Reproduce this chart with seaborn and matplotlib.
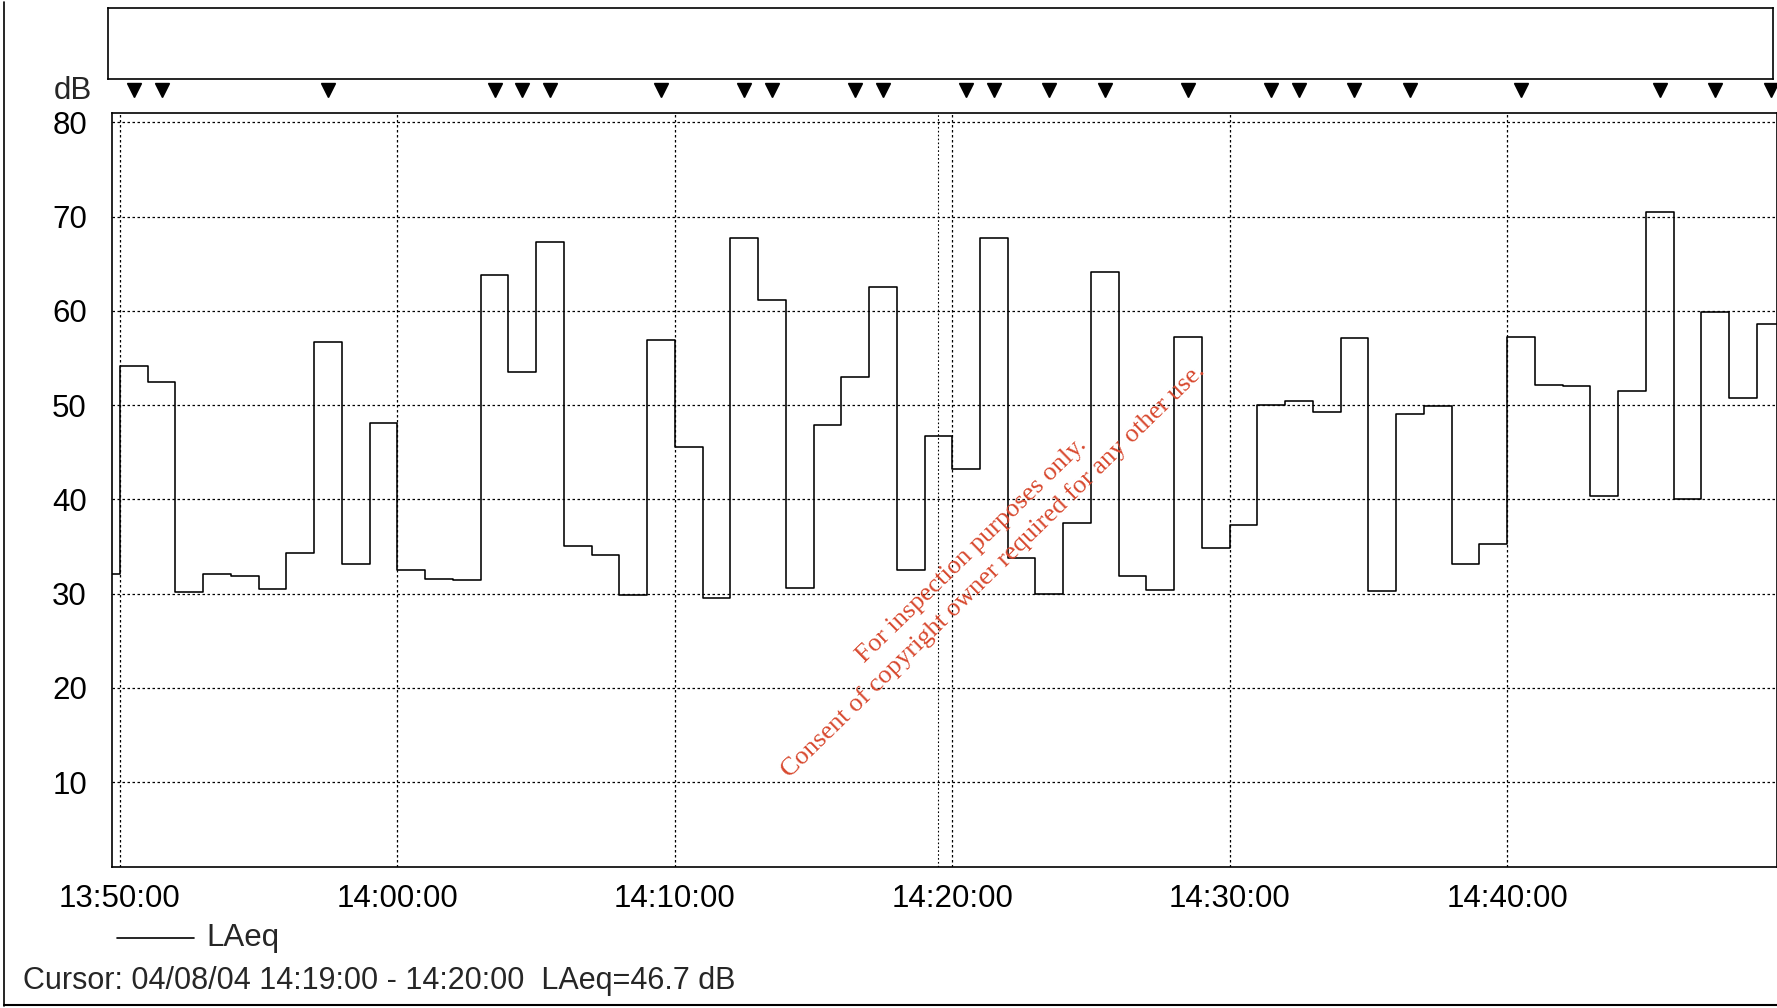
import matplotlib
matplotlib.use('Agg')
import matplotlib.pyplot as plt
import matplotlib.transforms as mtransforms
import seaborn as sns

# minutes after 13:50:00 (start of each 1-minute interval)
minutes = list(range(-1, 60))
laeq = [32.1,
        54.1, 52.5, 30.2, 32.1, 31.9, 30.5, 34.3, 56.7, 33.1, 48.1,
        32.5, 31.5, 31.4, 63.8, 53.5, 67.3, 35.0, 34.1, 29.8, 56.9,
        45.6, 29.5, 67.7, 61.1, 30.6, 47.9, 53.0, 62.5, 32.5, 46.7,
        43.2, 67.7, 33.8, 30.0, 37.5, 64.1, 31.9, 30.4, 57.2, 34.8,
        37.3, 50.0, 50.4, 49.3, 57.1, 30.3, 49.0, 49.9, 33.1, 35.3,
        57.2, 52.1, 52.0, 40.4, 51.5, 70.5, 40.0, 59.9, 50.7, 58.6]

# event markers (intervals flagged, minutes after 13:50)
marker_minutes = [0, 1, 7, 13, 14, 15, 19, 22, 23, 26, 27, 30, 31, 33, 35,
                  38, 41, 42, 44, 46, 50, 55, 57, 59]

x_ticks = [0, 10, 20, 30, 40, 50]
x_labels = ['13:50:00', '14:00:00', '14:10:00', '14:20:00', '14:30:00', '14:40:00']
y_ticks = [10, 20, 30, 40, 50, 60, 70, 80]
cursor_minute = 29.5

sns.set_style('white')
plt.rcParams['font.family'] = ['Liberation Sans', 'DejaVu Sans']

fig = plt.figure(figsize=(17.77, 10.08), dpi=100)
ax = fig.add_axes([0.063, 0.140, 0.937, 0.748])

# step line, extend last interval by one minute
xs = minutes + [minutes[-1] + 1]
ys = laeq + [laeq[-1]]
sns.lineplot(x=xs, y=ys, drawstyle='steps-post', color='black', linewidth=1.15,
             ax=ax, legend=False)

ax.set_xlim(-0.29, 59.73)
ax.set_ylim(1, 81)
ax.set_xticks(x_ticks)
ax.set_xticklabels(x_labels)
ax.set_yticks(y_ticks)
ax.tick_params(axis='both', labelsize=22.5, colors='black', length=8, width=1,
               direction='out')
ax.tick_params(axis='y', pad=10)
ax.tick_params(axis='x', pad=4)
ax.grid(True, color='black', linestyle=(0, (2, 2)), linewidth=0.9)
ax.axvline(cursor_minute, color='black', linestyle=(0, (1.5, 2)), linewidth=0.8)
ax.set_xlabel('')
ax.set_ylabel('')
for side in ['left', 'bottom', 'top', 'right']:
    ax.spines[side].set_visible(True)
    ax.spines[side].set_color('black')
    ax.spines[side].set_linewidth(1.2)

# event markers above the plot, centred on their intervals
trans = mtransforms.blended_transform_factory(ax.transData, ax.transAxes)
ax.plot([m + 0.5 for m in marker_minutes], [1.03] * len(marker_minutes),
        linestyle='none', marker='v', markersize=9.5, color='black',
        transform=trans, clip_on=False)

# empty panel on top
top_box = fig.add_axes([0.061, 0.922, 0.937, 0.070])
top_box.set_xticks([])
top_box.set_yticks([])
for side in top_box.spines.values():
    side.set_color('black')
    side.set_linewidth(1.2)

fig.text(0.041, 0.910, 'dB', fontsize=22.5, ha='center', va='center')

# legend and cursor readout
fig.add_artist(plt.Line2D([0.066, 0.109], [0.069, 0.069], color='black', linewidth=1.2))
fig.text(0.116, 0.069, 'LAeq', fontsize=22.5, va='center')
fig.text(0.013, 0.027, 'Cursor: 04/08/04 14:19:00 - 14:20:00  LAeq=46.7 dB',
         fontsize=22, va='center')

# outer frame
fig.add_artist(plt.Line2D([0.002, 0.002], [0.002, 0.998], color='black', linewidth=1.2))
fig.add_artist(plt.Line2D([0.002, 1.0], [0.003, 0.003], color='black', linewidth=1.5))

# watermark
wm_color = '#d8492f'
fig.text(0.547, 0.454, 'For inspection purposes only.', fontsize=19,
         family='Liberation Serif', color=wm_color, rotation=44.3,
         ha='center', va='center', rotation_mode='anchor')
fig.text(0.559, 0.434, 'Consent of copyright owner required for any other use.',
         fontsize=19, family='Liberation Serif', color=wm_color, rotation=44.3,
         ha='center', va='center', rotation_mode='anchor')

fig.savefig('out.png', dpi=100)
